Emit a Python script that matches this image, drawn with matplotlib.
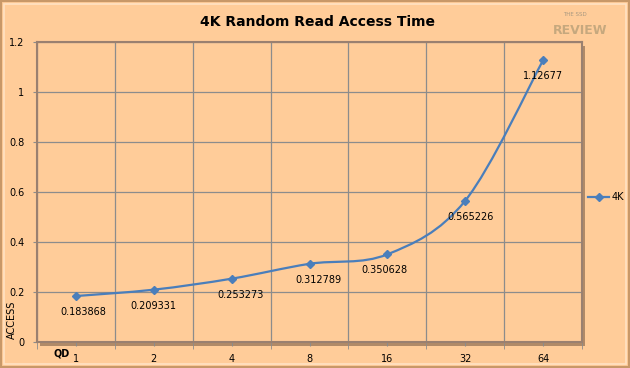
import numpy as np
import matplotlib.pyplot as plt
from matplotlib.patches import Rectangle, PathPatch
from matplotlib.path import Path
from matplotlib.lines import Line2D

# data
qd_labels = ["1", "2", "4", "8", "16", "32", "64"]
access_4k = [0.183868, 0.209331, 0.253273, 0.312789, 0.350628, 0.565226, 1.12677]
label_dx = [7, 0, 9, 9, -3, 5, 0]  # pixel shift of each data label

W, H = 630, 368
fig = plt.figure(figsize=(W / 100, H / 100), dpi=100)
bg = '#FFCC99'
line_col = '#4A7EBB'
fig.patch.set_facecolor(bg)

# bevelled outer frame
fig.patches.append(Rectangle((0, 0), 1, 1, transform=fig.transFigure,
                             facecolor='none', edgecolor='#C89868', linewidth=3, zorder=-3))
fig.patches.append(Rectangle((4 / W, 4 / H), 1 - 8 / W, 1 - 8 / H, transform=fig.transFigure,
                             facecolor='none', edgecolor='#FFE2C4', linewidth=1.2, zorder=-3))

x0, x1, y0, y1 = 37, 582, 42, 342
ax = fig.add_axes([x0 / W, 1 - y1 / H, (x1 - x0) / W, (y1 - y0) / H])
ax.set_facecolor(bg)

# shadow of plot area (3D look)
fig.patches.append(Rectangle(((x0 + 3) / W, 1 - (y1 + 4) / H), (x1 - x0) / W, (y1 - y0) / H,
                             transform=fig.transFigure, facecolor='#B08A68',
                             edgecolor='none', zorder=-2))

xs = np.arange(len(qd_labels))
pts = np.column_stack([xs, access_4k]).astype(float)

# smoothed line like Excel (bezier segments through the points)
verts = [pts[0]]
codes = [Path.MOVETO]
n = len(pts)
for i in range(n - 1):
    p_prev = pts[i - 1] if i > 0 else pts[i]
    p_next2 = pts[i + 2] if i + 2 < n else pts[i + 1]
    c1 = pts[i] + (pts[i + 1] - p_prev) / 6
    c2 = pts[i + 1] - (p_next2 - pts[i]) / 6
    verts += [c1, c2, pts[i + 1]]
    codes += [Path.CURVE4] * 3
ax.add_patch(PathPatch(Path(verts, codes), facecolor='none', edgecolor=line_col,
                       linewidth=1.6, zorder=3))
ax.plot(xs, access_4k, linestyle='none', marker='D', markersize=4.5, color=line_col, zorder=4)

for x, v, dx in zip(xs, access_4k, label_dx):
    ax.annotate(f'{v:g}', (x, v), xytext=(dx * 0.72, -11.5), textcoords='offset points',
                ha='center', va='center', fontsize=7, color='black')

ax.set_xlim(-0.5, len(qd_labels) - 0.5)
ax.set_ylim(0, 1.2)
ax.set_yticks(np.arange(0, 1.21, 0.2))
ax.set_yticklabels(['0', '0.2', '0.4', '0.6', '0.8', '1', '1.2'])
ax.set_xticks(xs)
ax.set_xticklabels(qd_labels)
ax.set_xticks(np.arange(-0.5, len(qd_labels), 1.0), minor=True)

ax.grid(True, which='minor', axis='x', color='#8C8C8C', linewidth=0.9)
ax.grid(True, which='major', axis='y', color='#8C8C8C', linewidth=0.9)
ax.tick_params(axis='both', which='major', labelsize=7, length=3, color='#8C8C8C', pad=6)
ax.tick_params(axis='x', which='minor', length=5, color='#8C8C8C')
for s in ax.spines.values():
    s.set_color('#9A8070')
    s.set_linewidth(1.5)

fig.text(318 / W, 1 - 22 / H, '4K Random Read Access Time', ha='center', va='center',
         fontsize=10, fontweight='bold')
fig.text(53 / W, 1 - 353 / H, 'QD', ha='left', va='center', fontsize=7, fontweight='bold')
fig.text(12 / W, 1 - 320 / H, 'ACCESS', rotation=90, ha='center', va='center', fontsize=7)

# logo text at the top right
fig.text(580 / W, 1 - 30 / H, 'REVIEW', ha='center', va='center', fontsize=9,
         fontweight='bold', color='#B8A078', alpha=0.8)
fig.text(575 / W, 1 - 14 / H, 'THE SSD', ha='center', va='center', fontsize=4,
         color='#A89880')

handle = Line2D([], [], color=line_col, linewidth=1.6, marker='D', markersize=4.5)
ax.legend([handle], ['4K'], loc='center left', bbox_to_anchor=(584 / W, 1 - 197 / H),
          bbox_transform=fig.transFigure, frameon=False, fontsize=7, handlelength=2.2,
          handletextpad=0.2, borderaxespad=0)

fig.savefig('out.png', dpi=100, facecolor=bg)
